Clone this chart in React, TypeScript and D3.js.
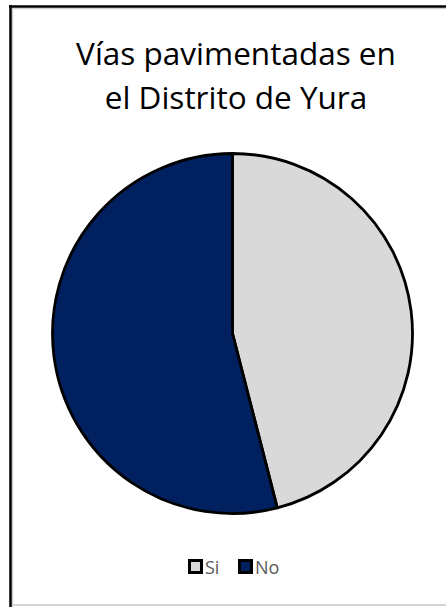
import React from "react";
import * as d3 from "d3";

const categories = ["Si", "No"];
const values = [46, 54];
const colors = ["#d9d9d9", "#002060"];
const titleLines = ["Vías pavimentadas en", "el Distrito de Yura"];

const W = 446;
const H = 607;

export default function App() {
  const cx = 232.5;
  const cy = 333.5;
  const r = 180;
  const pie = d3
    .pie<number>()
    .sort(null)
    .startAngle(0)
    .endAngle(2 * Math.PI)
    .value((d) => d);
  const arcs = pie(values);
  const arc = d3.arc<d3.PieArcDatum<number>>().innerRadius(0).outerRadius(r);

  const legendX = d3.scalePoint<string>().domain(categories).range([188, 238]);

  return (
    <svg
      width={W}
      height={H}
      style={{ position: "absolute", left: 0, top: 0, background: "#fff" }}
    >
      <rect x={0} y={0} width={W} height={H} fill="#fff" />
      {/* frame */}
      <line x1={12.5} y1={8} x2={12.5} y2={H} stroke="#d0d0d0" strokeWidth={1.5} />
      <line x1={12} y1={8.5} x2={W} y2={8.5} stroke="#d0d0d0" strokeWidth={1.5} />
      <line x1={12} y1={605} x2={W} y2={605} stroke="#d4d4d4" strokeWidth={2} />
      <line x1={10.5} y1={5} x2={10.5} y2={H} stroke="#000" strokeWidth={2.5} />
      <line x1={9} y1={6.5} x2={W} y2={6.5} stroke="#000" strokeWidth={2.5} />

      {titleLines.map((t, i) => (
        <text
          key={i}
          x={236}
          y={65 + i * 44}
          textAnchor="middle"
          fontFamily="Open Sans, sans-serif"
          fontSize={31.5}
          fill="#000"
        >
          {t}
        </text>
      ))}

      <g transform={`translate(${cx},${cy})`}>
        {arcs.map((a, i) => (
          <path
            key={i}
            d={arc(a) || ""}
            fill={colors[i]}
            stroke="#000"
            strokeWidth={2.8}
            strokeLinejoin="round"
          />
        ))}
      </g>

      {categories.map((c, i) => {
        const x = legendX(c) as number;
        return (
          <g key={c}>
            <rect
              x={x + 1.5}
              y={560.5}
              width={12}
              height={12}
              fill={colors[i]}
              stroke="#000"
              strokeWidth={3}
            />
            <text
              x={x + 17}
              y={574}
              fontFamily="Open Sans, sans-serif"
              fontSize={18}
              fill="#595959"
            >
              {c}
            </text>
          </g>
        );
      })}
    </svg>
  );
}
